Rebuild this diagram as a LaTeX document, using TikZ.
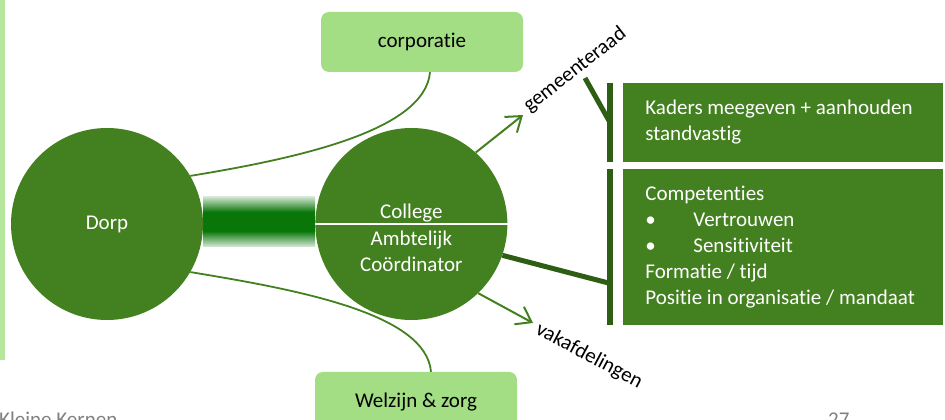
\documentclass[tikz,border=0pt]{standalone}
\usepackage{fontspec}
\setmainfont{Carlito}[Ligatures={NoCommon,NoContextual}]
\usetikzlibrary{positioning,arrows.meta}
\definecolor{circleGreen}{RGB}{67,128,32}
\definecolor{darkGreen}{RGB}{46,94,20}
\definecolor{paleGreen}{RGB}{163,222,133}
\definecolor{stripGreen}{RGB}{180,230,155}
\definecolor{barGreen}{RGB}{8,118,8}
\definecolor{footGray}{RGB}{128,128,128}
\pgfdeclareverticalshading{bandshade}{100bp}{color(0bp)=(barGreen!15); color(25bp)=(barGreen!15); color(41bp)=(barGreen); color(60bp)=(barGreen); color(75bp)=(barGreen!20); color(100bp)=(barGreen!20)}
\tikzset{line/.style={draw, circleGreen, line width=1.8pt}}
\tikzset{arrow/.style={line, line width=2pt, -{Straight Barb[length=14pt,width=20pt]}}}

\begin{document}
\begin{tikzpicture}[x=1pt, y=1pt, font=\fontsize{21}{26}\selectfont]
\tikzstyle{circ} = [circle, fill=circleGreen, text=white, minimum size=192pt, inner sep=0pt]
\tikzstyle{pale} = [rectangle, rounded corners=8pt, fill=paleGreen, minimum width=202pt, minimum height=60pt]
\tikzstyle{darkbox} = [rectangle, fill=circleGreen, text=white, text width=276pt, inner xsep=22pt, inner ysep=0pt, align=flush left]
\tikzstyle{bar} = [rectangle, fill=darkGreen, minimum width=6pt, inner sep=0pt]
\tikzstyle{thickline} = [draw, darkGreen, line width=5pt]

\useasboundingbox (0,0) rectangle (945,420);
\fill [stripGreen] (0,60) rectangle (5,420);

\node [circ] (dorp) at (107,196) {Dorp};
\node [circ, right=112pt of dorp] (college) {};
\node [pale] (corporatie) at (422,378) {corporatie};
\node [pale] (welzijn) at (416,18) {Welzijn \& zorg};

% band between the two circles
\shade [shading=bandshade] ([yshift=-23pt]dorp.east) rectangle ([yshift=27pt]college.west);

\draw [white, line width=1.5pt] (college.west) -- (college.east);
\node [text=white, anchor=base] (collegetext) at ([yshift=5pt]college.center) {College};
\node [text=white, align=center] (ambtelijk) at ([yshift=-27pt]college.center) {Ambtelijk\\Coördinator};

\path [line] ([xshift=8pt]corporatie.south) .. controls +(-5,-58) and +(110,18) .. (dorp.30);
\path [line] ([xshift=15pt]welzijn.north) .. controls +(-5,58) and +(110,-18) .. (dorp.-30);

\coordinate (gtip) at (523,305);
\coordinate (vtip) at (533,97);
\path [arrow] (college.48) -- (gtip);
\path [arrow] (college.-46) -- (vtip);
\node [rotate=38] (gemeenteraad) at (575,350) {gemeenteraad};
\node [rotate=-28] (vakafdelingen) at (589,64) {vakafdelingen};

\node [bar, minimum height=79pt] (topbar) at (610,297.5) {};
\node [bar, minimum height=156pt, below=7pt of topbar] (lowbar) {};
\node [darkbox, minimum height=79pt, right=10pt of topbar] (kaders) {Kaders meegeven + aanhouden\\standvastig};
\node [darkbox, minimum height=156pt, right=10pt of lowbar] (competenties) {Competenties\\
  \makebox[48pt][l]{\textbullet}Vertrouwen\\
  \makebox[48pt][l]{\textbullet}Sensitiviteit\\
  Formatie / tijd\\
  Positie in organisatie / mandaat};

\coordinate (gstart) at (585,342);
\path [thickline] (gstart) -- (topbar.center);
\path [thickline] (college.-19) -- ([yshift=-36pt]lowbar.center);

\node [text=footGray, anchor=base west, inner sep=0pt] (footer) at (-1,-6.5) {Kleine Kernen};
\node [text=footGray, anchor=base west, inner sep=0pt] (pagenr) at (828,-6.5) {27};
\end{tikzpicture}
\end{document}
